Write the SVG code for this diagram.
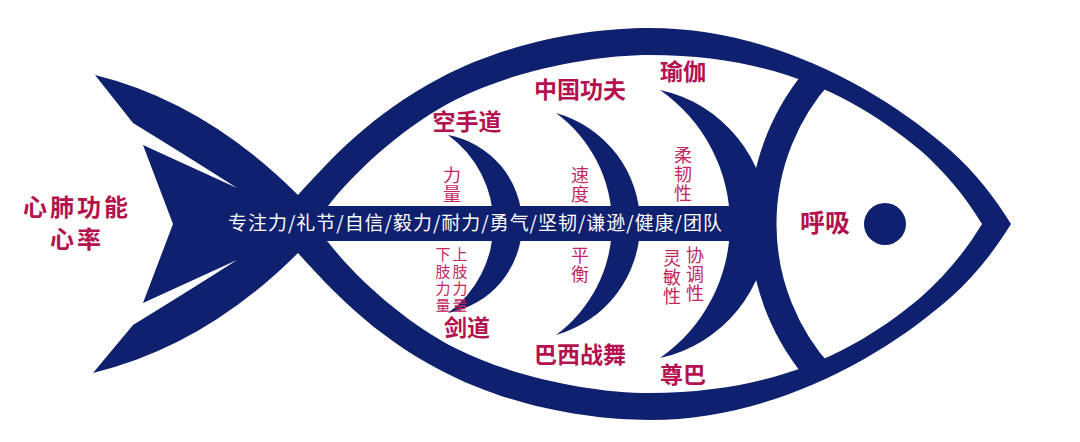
<svg xmlns="http://www.w3.org/2000/svg" width="1080" height="442" viewBox="0 0 1080 442">
<defs>
<style>
.navy{fill:#0f206e}
.t{font-family:"Noto Sans CJK SC","Noto Sans",sans-serif;text-anchor:middle}
.b{font-weight:700;fill:#b3124e;font-size:23px}
.v{font-family:"Noto Sans CJK SC","Noto Sans",sans-serif;writing-mode:vertical-rl;text-anchor:start;font-weight:400;fill:#c2275f;font-size:18px;letter-spacing:1px}
.vs{font-size:15px;letter-spacing:2px}
.sp{font-family:"Noto Sans CJK SC","Noto Sans",sans-serif;fill:#ffffff;font-size:19px;font-weight:400;text-anchor:start}
</style>
<path id="band" d="M298,195 C330,160 370,115 440,78 C510,41 590,28 650,28 C760,28 870,80 950,150 C975,172 995,198 1011,224 L982,224 C965,196 945,172 920,150 C860,100 780,55 650,55 C590,55 510,72 455,100 C410,123 360,165 328,206 L305,224 Z"/>
</defs>
<rect width="1080" height="442" fill="#ffffff"/>
<g id="fish" class="navy">
  <use href="#band"/>
  <use href="#band" transform="matrix(1 0 0 -1 0 448)"/>
  <path id="tail" d="M95,75 Q205,102 298,195 L335,224 L298,253 Q205,346 93,373 L133,325 Q190,290 237,260 L143,303 L173,224 L143,145 L237,188 Q190,158 133,123 Z"/>
  <path id="gill" d="M821.8,72 A225.8,225.8 0 0,0 821.8,376" fill="none" stroke="#0f206e" stroke-width="27"/>
  <circle id="eye" cx="885" cy="224" r="21"/>
</g>
<g id="connectors" class="navy">
  <rect id="spine" x="300" y="206" width="448" height="35"/>
  <path id="bone1" d="M448,135 A90.5,90.5 0 0,1 448,313 A110,110 0 0,0 448,135 Z"/>
  <path id="bone2" d="M556,113 A115.3,115.3 0 0,1 556,335 A138,138 0 0,0 556,113 Z"/>
  <path id="bone3" d="M660,90 A137.1,137.1 0 0,1 660,358 A163.3,163.3 0 0,0 660,90 Z"/>
</g>
<g id="spine-label">
  <text class="sp" x="228" y="230" textLength="494" lengthAdjust="spacing">专注力/礼节/自信/毅力/耐力/勇气/坚韧/谦逊/健康/团队</text>
</g>
<g id="node-tail">
  <text class="t b" x="77" y="216" style="font-size:24px;letter-spacing:3px">心肺功能</text>
  <text class="t b" x="77" y="248" style="font-size:24px;letter-spacing:3px">心率</text>
</g>
<g id="node-head">
  <text class="t b" x="825" y="232" style="font-size:25px">呼吸</text>
</g>
<g id="node-karate">
  <text class="t b" x="467" y="130">空手道</text>
  <text class="v" x="452" y="166">力量</text>
</g>
<g id="node-kendo">
  <text class="t b" x="467" y="336">剑道</text>
  <text class="v vs" x="460" y="247">上肢力量</text>
  <text class="v vs" x="443" y="247">下肢力量</text>
</g>
<g id="node-kungfu">
  <text class="t b" x="580" y="98">中国功夫</text>
  <text class="v" x="580" y="166">速度</text>
</g>
<g id="node-capoeira">
  <text class="t b" x="580" y="363">巴西战舞</text>
  <text class="v" x="580" y="246">平衡</text>
</g>
<g id="node-yoga">
  <text class="t b" x="683" y="80">瑜伽</text>
  <text class="v" x="683" y="146">柔韧性</text>
</g>
<g id="node-zumba">
  <text class="t b" x="683" y="383">尊巴</text>
  <text class="v" x="672" y="249">灵敏性</text>
  <text class="v" x="695" y="246">协调性</text>
</g>
</svg>
